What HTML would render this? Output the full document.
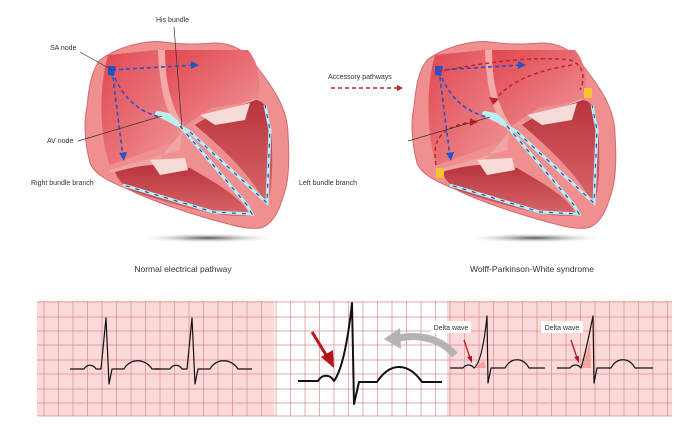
<!DOCTYPE html>
<html><head><meta charset="utf-8"><style>
html,body{margin:0;padding:0;background:#fff;}
svg{display:block;font-family:"Liberation Sans",sans-serif;}
</style></head><body>
<svg width="692" height="442" viewBox="0 0 692 442" xmlns="http://www.w3.org/2000/svg">
<defs>
<linearGradient id="atr" x1="0" y1="0" x2="1" y2="1"><stop offset="0" stop-color="#e2474f"/><stop offset="1" stop-color="#ee9497"/></linearGradient>
<linearGradient id="ven" x1="0" y1="0" x2="0" y2="1"><stop offset="0" stop-color="#b8343c"/><stop offset="1" stop-color="#d9676b"/></linearGradient>
<radialGradient id="sh"><stop offset="0" stop-color="#555"/><stop offset="1" stop-color="#fff" stop-opacity="0"/></radialGradient>
<g id="heart">
<ellipse cx="208" cy="238" rx="72" ry="5" fill="url(#sh)"/>
<path d="M100,60 C120,45 150,40 163,42 C185,45 200,44 213,43 C235,42 250,55 257,67 C275,90 288,110 288,135 C290,165 288,185 283,197 C278,215 270,226 260,228 C245,230 230,224 213,220 C185,212 150,200 130,190 C110,182 95,175 90,163 C84,140 84,120 87,107 C89,85 92,70 100,60 Z" fill="#ef8f90" stroke="#d5686c" stroke-width="1"/>
<path d="M108,55 L158,50 C160,90 165,110 178,128 L180,140 L110,165 C100,140 98,90 108,55 Z" fill="url(#atr)"/>
<path d="M165,50 L248,50 C258,62 262,80 257,100 L212,108 L184,126 C170,105 165,80 165,50 Z" fill="url(#atr)"/>
<path d="M158,50 L165,50 C165,80 170,105 184,126 L178,128 C165,110 160,90 158,50 Z" fill="#f3a9a8"/>
<path d="M182,128 L255,99 L262,110 L203,120 Z" fill="#f4c9c6"/>
<path d="M110,170 L180,150 L182,132 L150,170 L110,172 Z" fill="#f0a4a3"/>
<path d="M115,172 C140,165 160,162 190,168 C210,180 240,195 250,215 C230,220 180,207 135,192 C125,188 118,180 115,172 Z" fill="url(#ven)"/>
<path d="M195,125 C215,110 245,105 255,100 C268,100 272,120 272,150 C273,180 270,200 266,205 C255,180 225,150 195,125 Z" fill="url(#ven)"/>
<path d="M200,115 L250,103 L245,120 L215,125 Z" fill="#f6dcd8"/>
<path d="M150,160 L185,158 L188,170 L160,175 Z" fill="#f6dcd8"/>
<path d="M160,116 L180,126 L247,205 L252,214 L213,212 L123,185 M180,126 L190,132 L267,203 L270,130 L265,105" fill="none" stroke="#bdeef0" stroke-width="3"/>
<path d="M158,114 L168,116 L176,123" fill="none" stroke="#bdeef0" stroke-width="6" stroke-linecap="round"/>
<path d="M180,126 L247,205 L252,214 L213,212 L123,185 M190,132 L267,203 L270,130 L265,105" fill="none" stroke="#1f4fc0" stroke-width="1.2" stroke-dasharray="4 6"/>
<path d="M112,70 L195,65 M112,70 L123,157 M115,78 C125,100 140,112 160,117" fill="none" stroke="#2554c8" stroke-width="1.6" stroke-dasharray="4 3"/>
<path d="M191,61 L199,65 L191,69 Z" fill="#2554c8"/>
<path d="M119,153 L124,161 L127,152 Z" fill="#2554c8"/>
<path d="M108,66 L116,66 L114,76 L108,75 Z" fill="#2554c8"/>
</g>
</defs>

<use href="#heart"/>
<g transform="translate(327,0)"><use href="#heart"/></g>

<path d="M437,72 C470,65 530,55 570,60 C585,65 585,80 580,90 M572,65 C540,70 510,80 495,100 M436,165 C432,140 440,128 470,122" fill="none" stroke="#c0242c" stroke-width="1.5" stroke-dasharray="4 3"/>
<path d="M489,97 L493,105 L499,99 Z" fill="#c0242c"/>
<path d="M470,118 L478,122 L470,126 Z" fill="#c0242c"/>
<rect x="584" y="88" width="8" height="10" fill="#f5c232"/>
<rect x="436" y="168" width="8" height="10" fill="#f5c232"/>

<g font-size="7" fill="#333">
<text x="156" y="22">His bundle</text>
<text x="50" y="50">SA node</text>
<text x="47" y="143">AV node</text>
<text x="31" y="185">Right bundle branch</text>
<text x="299" y="185">Left bundle branch</text>
<text x="328" y="79">Accessory pathways</text>
</g>
<g stroke="#333" stroke-width="0.7">
<line x1="174" y1="27" x2="182" y2="128"/>
<line x1="80" y1="52" x2="112" y2="70"/>
<line x1="78" y1="141" x2="162" y2="116"/>
<line x1="408" y1="141" x2="490" y2="117"/>
</g>
<line x1="331" y1="88" x2="398" y2="88" stroke="#c0242c" stroke-width="1.5" stroke-dasharray="4 3"/>
<path d="M397,85 L403,88 L397,91 Z" fill="#c0242c"/>
<text x="183" y="272" font-size="8.5" fill="#333" text-anchor="middle">Normal electrical pathway</text>
<text x="532" y="272" font-size="8.5" fill="#333" text-anchor="middle">Wolff-Parkinson-White syndrome</text>

<rect x="37" y="301" width="237" height="115" fill="#fbd9d8"/>
<rect x="274" y="301" width="173" height="115" fill="#fff"/>
<rect x="447" y="301" width="225" height="115" fill="#fbd9d8"/>
<g stroke="#d98c91" stroke-width="0.7">
<line x1="37" y1="302" x2="672" y2="302"/><line x1="37" y1="317" x2="672" y2="317"/><line x1="37" y1="331" x2="672" y2="331"/><line x1="37" y1="345" x2="672" y2="345"/><line x1="37" y1="360" x2="672" y2="360"/><line x1="37" y1="374" x2="672" y2="374"/><line x1="37" y1="389" x2="672" y2="389"/><line x1="37" y1="403" x2="672" y2="403"/><line x1="37" y1="416" x2="672" y2="416"/>
</g>
<g stroke="#d98c91" stroke-width="0.7">
<line x1="44" y1="301" x2="44" y2="416"/><line x1="58.5" y1="301" x2="58.5" y2="416"/><line x1="73" y1="301" x2="73" y2="416"/><line x1="87.5" y1="301" x2="87.5" y2="416"/><line x1="102" y1="301" x2="102" y2="416"/><line x1="116.5" y1="301" x2="116.5" y2="416"/><line x1="131" y1="301" x2="131" y2="416"/><line x1="145.5" y1="301" x2="145.5" y2="416"/><line x1="160" y1="301" x2="160" y2="416"/><line x1="174.5" y1="301" x2="174.5" y2="416"/><line x1="189" y1="301" x2="189" y2="416"/><line x1="203.5" y1="301" x2="203.5" y2="416"/><line x1="218" y1="301" x2="218" y2="416"/><line x1="232.5" y1="301" x2="232.5" y2="416"/><line x1="247" y1="301" x2="247" y2="416"/><line x1="261.5" y1="301" x2="261.5" y2="416"/><line x1="276" y1="301" x2="276" y2="416"/><line x1="290.5" y1="301" x2="290.5" y2="416"/><line x1="305" y1="301" x2="305" y2="416"/><line x1="319.5" y1="301" x2="319.5" y2="416"/><line x1="334" y1="301" x2="334" y2="416"/><line x1="348.5" y1="301" x2="348.5" y2="416"/><line x1="363" y1="301" x2="363" y2="416"/><line x1="377.5" y1="301" x2="377.5" y2="416"/><line x1="392" y1="301" x2="392" y2="416"/><line x1="406.5" y1="301" x2="406.5" y2="416"/><line x1="421" y1="301" x2="421" y2="416"/><line x1="435.5" y1="301" x2="435.5" y2="416"/><line x1="450" y1="301" x2="450" y2="416"/><line x1="464.5" y1="301" x2="464.5" y2="416"/><line x1="479" y1="301" x2="479" y2="416"/><line x1="493.5" y1="301" x2="493.5" y2="416"/><line x1="508" y1="301" x2="508" y2="416"/><line x1="522.5" y1="301" x2="522.5" y2="416"/><line x1="537" y1="301" x2="537" y2="416"/><line x1="551.5" y1="301" x2="551.5" y2="416"/><line x1="566" y1="301" x2="566" y2="416"/><line x1="580.5" y1="301" x2="580.5" y2="416"/><line x1="595" y1="301" x2="595" y2="416"/><line x1="609.5" y1="301" x2="609.5" y2="416"/><line x1="624" y1="301" x2="624" y2="416"/><line x1="638.5" y1="301" x2="638.5" y2="416"/><line x1="653" y1="301" x2="653" y2="416"/><line x1="667.5" y1="301" x2="667.5" y2="416"/>
</g>

<g fill="none" stroke="#111" stroke-width="1.2" stroke-linejoin="round">
<path d="M70,369 L84,369 C87,364 93,364 96,369 L101,369 L106,318 L109,384 L112,369 L124,369 C130,358 145,358 152,369 L160,369"/>
<path d="M155,369 L170,369 C173,364 179,364 182,369 L187,369 L192,318 L195,384 L198,369 L210,369 C216,358 231,358 238,369 L252,369"/>
<path d="M298,381 L318,381 C322,374 330,374 334,381 C342,370 348,340 352,303 L354,404 L359,382 L377,382 C390,362 408,362 422,382 L442,382" stroke-width="2"/>
<path d="M450,368 L463,368 C466,364 471,364 474,368 C480,364 484,345 487,316 L488,383 L491,368 L505,368 C511,357 523,357 529,368 L545,368"/>
<path d="M557,368 L570,368 C573,364 578,364 581,368 C586,352 590,330 593,316 L594,383 L597,368 L611,368 C617,357 629,357 635,368 L653,368"/>
</g>
<path d="M475,368 L484,360 L486,368 Z" fill="#f08c8c" opacity="0.7"/>
<path d="M582,368 L590,340 L591,368 Z" fill="#f08c8c" opacity="0.7"/>
<line x1="312" y1="332" x2="328" y2="358" stroke="#b8141c" stroke-width="3"/>
<path d="M321,357 L334,368 L333,350 Z" fill="#b8141c"/>
<path d="M455,355 C440,338 420,334 398,338" fill="none" stroke="#b4b4b4" stroke-width="7"/>
<path d="M400,328 L384,339 L401,349 Z" fill="#b4b4b4"/>
<line x1="464" y1="340" x2="470" y2="358" stroke="#b8141c" stroke-width="1.3"/>
<path d="M467,357 L472,363 L472,356 Z" fill="#b8141c"/>
<line x1="571" y1="340" x2="577" y2="358" stroke="#b8141c" stroke-width="1.3"/>
<path d="M574,357 L579,363 L579,356 Z" fill="#b8141c"/>
<rect x="431" y="321" width="40" height="12" fill="#fff"/>
<rect x="541" y="321" width="42" height="12" fill="#fff"/>
<text x="451" y="330" font-size="7" fill="#333" text-anchor="middle">Delta wave</text>
<text x="562" y="330" font-size="7" fill="#333" text-anchor="middle">Delta wave</text>
</svg>
</body></html>
